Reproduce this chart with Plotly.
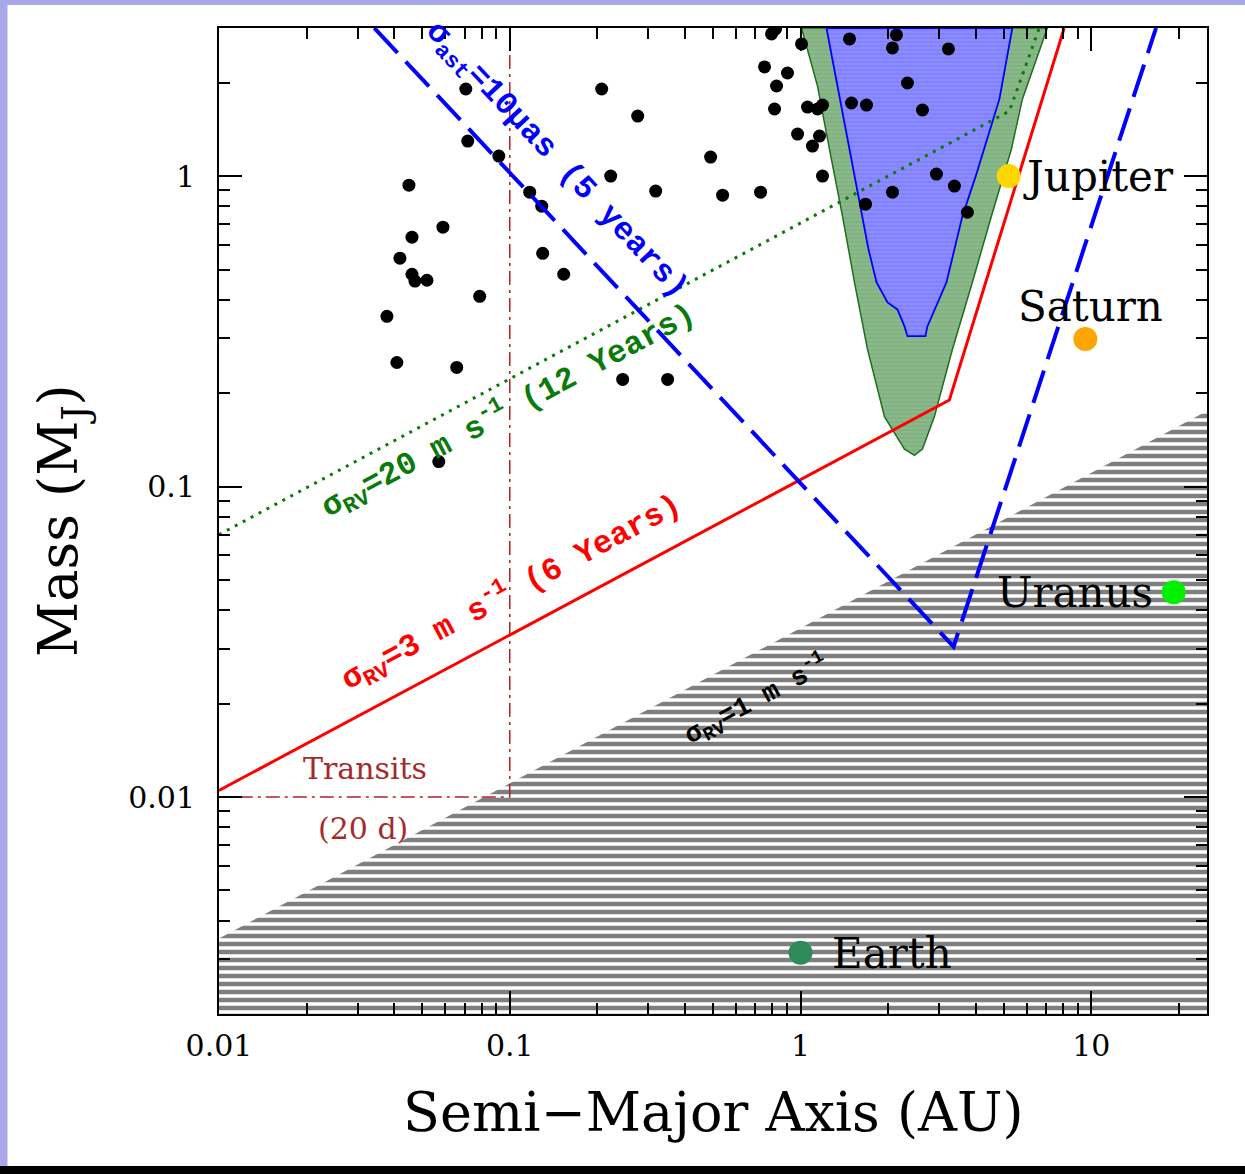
import math
import plotly.graph_objects as go

# ---------------- data ----------------
# known exoplanets (semi-major axis AU, mass M_J)
exo_a = [0.0706, 0.0717, 0.0917, 0.0450, 0.1171, 0.1288, 0.0589, 0.0461, 0.1298, 0.0419,
         0.0461, 0.0472, 0.0519, 0.0788, 0.0378, 0.0409, 0.0657, 0.0570, 0.1533,
         0.2071, 0.2754, 0.4906, 0.2224, 0.3176, 0.5395, 0.7287, 0.2445, 0.3491,
         0.7949, 0.8205, 1.008, 0.752, 0.902, 0.827, 0.814, 1.057, 1.144, 1.190,
         0.977, 1.162, 1.099, 1.190,
         1.474, 2.138, 2.071, 3.226, 2.332, 1.497, 1.686, 2.626, 2.934, 3.383,
         2.071, 1.673, 3.749]
exo_m = [1.908, 1.297, 1.160, 0.935, 0.888, 0.800, 0.685, 0.636, 0.564, 0.544,
         0.483, 0.459, 0.462, 0.410, 0.3535, 0.251, 0.242, 0.1204, 0.483,
         1.908, 1.561, 1.152, 1.000, 0.895, 0.868, 0.888, 0.2214, 0.2214,
         2.871, 2.980, 2.666, 2.247, 2.149, 1.951, 1.645, 1.669, 1.645, 1.694,
         1.366, 1.346, 1.250, 1.000,
         2.766, 2.850, 2.588, 2.569, 1.995, 1.720, 1.694, 1.633, 1.015, 0.929,
         0.888, 0.812, 0.765]

# solar-system planets
planet_names = ["Jupiter", "Saturn", "Uranus", "Earth"]
planet_a = [5.2, 9.54, 19.2, 1.0]
planet_m = [1.0, 0.299, 0.0457, 0.00315]
planet_colors = ["#FFD700", "#FFA500", "#00F000", "#2E8B57"]

# detection limits
rv3_a = [0.01, 3.25, 8.07]          # sigma_RV = 3 m/s (6 yr)
rv3_m = [0.0105, 0.19, 3.0]
rv20_a = [0.01, 5.23, 6.62]         # sigma_RV = 20 m/s (12 yr)
rv20_m = [0.070, 1.62, 3.0]
ast_a = [0.0342, 3.36, 16.7]        # sigma_ast = 10 muas (5 yr)
ast_m = [3.0, 0.0305, 3.0]
rv1_a = [0.01, 25.0, 25.0, 0.01]    # sigma_RV = 1 m/s region
rv1_m = [0.0035, 0.175, 0.0015, 0.0015]
transit_a = [0.1, 0.1, 0.01]        # transits (20 d)
transit_m = [3.0, 0.01, 0.01]

# green (outer) and blue (inner) regions
green_a = [1.008, 1.144, 1.258, 1.394, 1.533, 1.699, 1.944, 2.278, 2.465,
           2.626, 2.887, 3.330, 3.900, 4.533, 5.311, 5.794, 7.061]
green_m = [3.0, 1.95, 1.22, 0.743, 0.455, 0.277, 0.168, 0.132, 0.126,
           0.132, 0.168, 0.277, 0.455, 0.743, 1.22, 1.77, 3.0]
blue_a = [1.228, 1.340, 1.474, 1.621, 1.713, 1.825, 1.991, 2.154, 2.278, 2.332,
          2.689, 2.731, 3.177, 3.383, 3.603, 4.026, 4.830, 5.352]
blue_m = [3.0, 1.95, 1.22, 0.743, 0.581, 0.455, 0.392, 0.372, 0.328, 0.305,
          0.305, 0.328, 0.455, 0.581, 0.743, 1.015, 1.77, 3.0]

# axes
x_range = [0.01, 25.0]
y_range = [0.002, 3.0]
x_tickvals = [0.01, 0.1, 1, 10]
x_ticktext = ["0.01", "0.1", "1", "10"]
y_tickvals = [0.01, 0.1, 1]
y_ticktext = ["0.01", "0.1", "1"]
x_minor = [m * d for d in [0.01, 0.1, 1, 10] for m in range(2, 10) if m * d <= 25]
y_minor = [m * d for d in [0.001, 0.01, 0.1, 1] for m in range(2, 10) if 0.002 <= m * d <= 3]

SERIF = "DejaVu Serif"
MONO = "Liberation Mono"

fig = go.Figure()

# sigma_RV = 1 m/s hatched region
fig.add_trace(go.Scatter(
    x=rv1_a, y=rv1_m, mode="lines", fill="toself",
    line=dict(width=0, color="black"), fillcolor="white",
    fillpattern=dict(shape="-", size=8, solidity=0.56, fgcolor="black", bgcolor="white"),
    hoverinfo="skip", showlegend=False))

# green region
fig.add_trace(go.Scatter(
    x=green_a + [green_a[0]], y=green_m + [green_m[0]], mode="lines", fill="toself",
    line=dict(width=1.5, color="#1E6E1E"), fillcolor="white",
    fillpattern=dict(shape="-", size=4, solidity=0.95, fgcolor="#2A7A2A", bgcolor="#D8EBD8"),
    hoverinfo="skip", showlegend=False))

# blue region
fig.add_trace(go.Scatter(
    x=blue_a + [blue_a[0]], y=blue_m + [blue_m[0]], mode="lines", fill="toself",
    line=dict(width=1.8, color="#0000FF"), fillcolor="white",
    fillpattern=dict(shape="-", size=4, solidity=0.95, fgcolor="#2020FF", bgcolor="#E4E4FF"),
    hoverinfo="skip", showlegend=False))

# transit limit
fig.add_trace(go.Scatter(
    x=transit_a, y=transit_m, mode="lines",
    line=dict(width=1.5, color="#B22222", dash="14px,5px,3px,5px"),
    hoverinfo="skip", showlegend=False))

# exoplanets
fig.add_trace(go.Scatter(
    x=exo_a, y=exo_m, mode="markers",
    marker=dict(size=13, color="black", line=dict(width=0)),
    hoverinfo="skip", showlegend=False))

# sigma_RV = 20 m/s
fig.add_trace(go.Scatter(
    x=rv20_a, y=rv20_m, mode="lines",
    line=dict(width=3, color="#0A7A0A", dash="3px,6px"),
    hoverinfo="skip", showlegend=False))

# sigma_RV = 3 m/s
fig.add_trace(go.Scatter(
    x=rv3_a, y=rv3_m, mode="lines",
    line=dict(width=3, color="#FF0000"),
    hoverinfo="skip", showlegend=False))

# astrometry
fig.add_trace(go.Scatter(
    x=ast_a, y=ast_m, mode="lines",
    line=dict(width=4, color="#0000FF", dash="34px,12px"),
    hoverinfo="skip", showlegend=False))

# solar-system planets
fig.add_trace(go.Scatter(
    x=planet_a, y=planet_m, mode="markers",
    marker=dict(size=24, color=planet_colors, line=dict(width=0)),
    hoverinfo="skip", showlegend=False))

L = math.log10
ann = []
# planet labels
ann.append(dict(x=L(5.75), y=L(1.0), text="Jupiter", xanchor="left", yanchor="middle"))
ann.append(dict(x=L(9.9), y=L(0.381), text="Saturn", xanchor="center", yanchor="middle"))
ann.append(dict(x=L(16.5), y=L(0.0455), text="Uranus", xanchor="right", yanchor="middle"))
ann.append(dict(x=L(1.26), y=L(0.00314), text="Earth", xanchor="left", yanchor="middle"))
for a_ in ann:
    a_.update(xref="x", yref="y", showarrow=False,
              font=dict(family=SERIF, size=42, color="black"))

ann.append(dict(x=L(0.0318), y=L(0.0124), text="Transits", xref="x", yref="y", showarrow=False,
                font=dict(family=SERIF, size=30, color="#A52A2A")))
ann.append(dict(x=L(0.0313), y=L(0.0079), text="(20 d)", xref="x", yref="y", showarrow=False,
                font=dict(family=SERIF, size=30, color="#A52A2A")))

# line labels
ann.append(dict(x=L(0.1440), y=L(1.115), text="σ<sub>ast</sub>=10μas (5 years)",
                textangle=46.8, xref="x", yref="y", showarrow=False,
                font=dict(family=MONO, size=32, color="#0000FF", weight="bold")))
ann.append(dict(x=L(0.0992), y=L(0.176), text="σ<sub>RV</sub>=20 m s<sup>-1</sup> (12 Years)",
                textangle=-28.1, xref="x", yref="y", showarrow=False,
                font=dict(family=MONO, size=32, color="#0A7A0A", weight="bold")))
ann.append(dict(x=L(0.1008), y=L(0.0458), text="σ<sub>RV</sub>=3 m s<sup>-1</sup> (6 Years)",
                textangle=-28.1, xref="x", yref="y", showarrow=False,
                font=dict(family=MONO, size=32, color="#FF0000", weight="bold")))
ann.append(dict(x=L(0.706), y=L(0.0206), text="σ<sub>RV</sub>=1 m s<sup>-1</sup>",
                textangle=-28.1, xref="x", yref="y", showarrow=False,
                font=dict(family=MONO, size=27, color="black", weight="bold")))

# axis titles
ann.append(dict(x=0.5, y=-0.1004, xref="paper", yref="paper", showarrow=False,
                text="Semi−Major Axis (AU)", xanchor="center", yanchor="middle",
                font=dict(family=SERIF, size=54, color="black")))
ann.append(dict(x=-0.1589, y=0.5, xref="paper", yref="paper", showarrow=False,
                text="Mass (M<sub>J</sub>)", textangle=-90, xanchor="center", yanchor="middle",
                font=dict(family=SERIF, size=54, color="black")))

W, H = 1245, 1174
ml, mr, mt, mb = 219, 38, 28, 160
pw, ph = W - ml - mr, H - mt - mb


def px(xp):
    return (xp - ml) / pw


def py(yp):
    return (H - mb - yp) / ph


shapes = [
    dict(type="rect", xref="paper", yref="paper", x0=px(0), x1=px(7.5), y0=py(H), y1=py(0),
         fillcolor="#A8A8E8", line=dict(width=0), layer="above"),
    dict(type="rect", xref="paper", yref="paper", x0=px(0), x1=px(W), y0=py(5), y1=py(0),
         fillcolor="#A8A8E8", line=dict(width=0), layer="above"),
    dict(type="rect", xref="paper", yref="paper", x0=px(0), x1=px(W), y0=py(H), y1=py(1166),
         fillcolor="black", line=dict(width=0), layer="above"),
]

axis_common = dict(
    type="log", showgrid=False, zeroline=False, showline=True, linewidth=2, linecolor="black",
    mirror="allticks", ticks="inside", ticklen=23, tickwidth=1.5, tickcolor="black",
    tickmode="array",
    tickfont=dict(family=SERIF, size=30, color="black"),
)

fig.update_layout(
    width=W, height=H,
    margin=dict(l=ml, r=mr, t=mt, b=mb, pad=0),
    paper_bgcolor="white", plot_bgcolor="white",
    showlegend=False,
    annotations=ann, shapes=shapes,
    xaxis=dict(axis_common, range=[L(x_range[0]), L(x_range[1])],
               tickvals=x_tickvals, ticktext=x_ticktext, ticklabelstandoff=4,
               minor=dict(tickmode="array", tickvals=x_minor, ticks="inside", ticklen=11,
                          tickwidth=1.5, tickcolor="black", showgrid=False)),
    yaxis=dict(axis_common, range=[L(y_range[0]), L(y_range[1])],
               tickvals=y_tickvals, ticktext=y_ticktext, ticklabelstandoff=16,
               minor=dict(tickmode="array", tickvals=y_minor, ticks="inside", ticklen=11,
                          tickwidth=1.5, tickcolor="black", showgrid=False)),
)

fig.write_html("out.html")
